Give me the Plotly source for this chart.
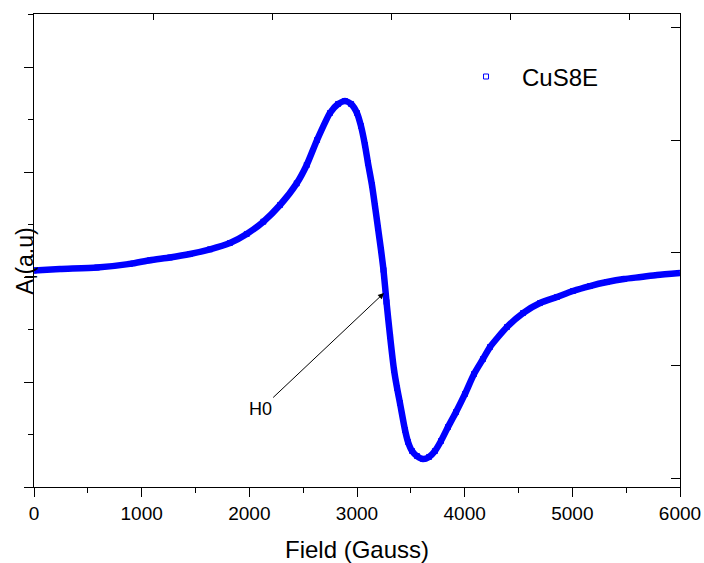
import plotly.graph_objects as go

# Field (Gauss) values
field = [0, 241, 585, 892, 1077, 1263, 1449, 1635, 1820, 1976, 2130, 2285, 2440,
         2533, 2629, 2749, 2824, 2889, 2945, 3000, 3037, 3074, 3102, 3139, 3167,
         3195, 3223, 3246, 3274, 3307, 3344, 3372, 3399, 3446, 3474, 3511, 3557,
         3613, 3669, 3724, 3780, 3845, 3920, 4003, 4087, 4170, 4235, 4393, 4542,
         4700, 4858, 5006, 5164, 5322, 5480, 5638, 5786, 6000]
# Absorption derivative signal (arbitrary units, left-axis major tick = 1)
signal = [2.062, 2.076, 2.090, 2.125, 2.160, 2.186, 2.219, 2.264, 2.324, 2.410,
          2.527, 2.686, 2.892, 3.067, 3.305, 3.562, 3.648, 3.676, 3.648, 3.562,
          3.438, 3.257, 3.086, 2.876, 2.676, 2.467, 2.257, 2.067, 1.762, 1.438,
          1.114, 0.943, 0.800, 0.543, 0.429, 0.343, 0.295, 0.267, 0.286, 0.343,
          0.438, 0.571, 0.714, 0.886, 1.076, 1.219, 1.333, 1.524, 1.657, 1.752,
          1.810, 1.867, 1.914, 1.952, 1.981, 2.000, 2.019, 2.038]

series_name = "CuS8E"
x_ticks = [0, 1000, 2000, 3000, 4000, 5000, 6000]
h0_field, h0_signal = 3251, 1.848
h0_label_field, h0_label_signal = 2108, 0.743

FONT = "Arial, Liberation Sans, sans-serif"
BLUE = "#0000FF"

fig = go.Figure()
# continuous band of the densely sampled curve
fig.add_trace(go.Scatter(
    x=field, y=signal, mode="lines", showlegend=False, hoverinfo="skip",
    line=dict(color=BLUE, width=6.5, shape="spline", smoothing=0.6),
))
# open square markers (legend entry)
fig.add_trace(go.Scatter(
    x=field, y=signal, name=series_name, mode="markers",
    marker=dict(symbol="square-open", size=5, color=BLUE, line=dict(width=1)),
))
# empty trace so the secondary (top/right) axes are drawn
fig.add_trace(go.Scatter(x=[], y=[], xaxis="x2", yaxis="y2", showlegend=False,
                         hoverinfo="skip"))

axis_common = dict(showline=True, linecolor="black", linewidth=1.3, automargin=False,
                   showgrid=False, zeroline=False, tickcolor="black", tickwidth=1.3)

fig.update_layout(
    width=704, height=563,
    margin=dict(l=34, r=24, t=14, b=76),
    paper_bgcolor="white", plot_bgcolor="white",
    font=dict(family=FONT, color="black"),
    showlegend=True,
    legend=dict(x=0.644, y=0.867, xanchor="left", yanchor="middle",
                font=dict(size=24, family=FONT, color="black"),
                bgcolor="rgba(0,0,0,0)", itemwidth=62),
    xaxis=dict(range=[0, 6000], tickvals=x_ticks, ticks="outside", ticklen=9,
               minor=dict(dtick=500, ticks="outside", ticklen=5, tickcolor="black"),
               tickfont=dict(size=19, family=FONT, color="black"),
               title=dict(text="Field (Gauss)", font=dict(size=24, family=FONT),
                          standoff=20),
               mirror=False, **axis_common),
    yaxis=dict(range=[0, 4.505], dtick=1, tick0=0, ticks="outside", ticklen=9,
               minor=dict(dtick=0.5, ticks="outside", ticklen=5, tickcolor="black"),
               showticklabels=False, mirror=False, **axis_common),
    xaxis2=dict(range=[0, 5.42], dtick=1, tick0=0, ticks="inside", ticklen=6,
                overlaying="x", side="top", anchor="y", showticklabels=False,
                **axis_common),
    yaxis2=dict(range=[-0.08, 4.124], dtick=1, tick0=0, ticks="inside", ticklen=9,
                overlaying="y", side="right", anchor="x", showticklabels=False,
                **axis_common),
    annotations=[
        dict(text="A<sub>I</sub>(a.u)", xref="paper", yref="paper", x=0, y=0.478,
             xanchor="right", yanchor="middle", textangle=-90, showarrow=False,
             xshift=9, font=dict(size=23, family=FONT, color="black")),
        dict(text="H0", x=h0_field, y=h0_signal, xref="x", yref="y",
             ax=h0_label_field, ay=h0_label_signal, axref="x", ayref="y",
             showarrow=True, arrowhead=2, arrowsize=1.2, arrowwidth=1,
             arrowcolor="black", standoff=0,
             font=dict(size=18, family=FONT, color="black")),
    ],
)

# remove the browser's default 8px body margin so the figure fills the window
fig.write_html("out.html",
               config={"displayModeBar": False},
               post_script="document.body.style.margin='0';document.body.style.overflow='hidden';")
